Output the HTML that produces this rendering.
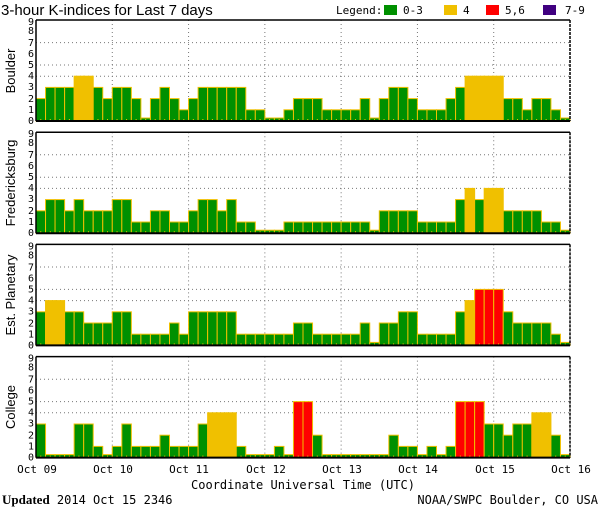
<!DOCTYPE html>
<html><head><meta charset="utf-8"><style>
html,body{margin:0;padding:0;background:#fff;}
svg{display:block;font-family:"DejaVu Sans Mono","Liberation Mono",monospace;}
</style></head><body>
<svg id="s" width="600" height="510" viewBox="0 0 600 510" xmlns="http://www.w3.org/2000/svg">
<rect width="600" height="510" fill="#fff"/>
<text x="1" y="15" font-size="15" font-family="Liberation Sans, sans-serif" fill="#000">3-hour K-indices for Last 7 days</text>
<text x="336" y="14" font-size="11" fill="#000">Legend:</text>
<rect x="384" y="5" width="13" height="10" fill="#009000"/><text x="403" y="14" font-size="11">0-3</text>
<rect x="444" y="5" width="13" height="10" fill="#f0c000"/><text x="463" y="14" font-size="11">4</text>
<rect x="486" y="5" width="13" height="10" fill="#ff0000"/><text x="505" y="14" font-size="11">5,6</text>
<rect x="543" y="5" width="13" height="10" fill="#400080"/><text x="565" y="14" font-size="11">7-9</text>
<g id="bars"></g>
<g font-size="10" text-anchor="end" fill="#000">
<text x="34" y="124">0</text><text x="34" y="113">1</text><text x="34" y="102">2</text><text x="34" y="90">3</text><text x="34" y="79">4</text><text x="34" y="68">5</text><text x="34" y="57">6</text><text x="34" y="46">7</text><text x="34" y="34">8</text><text x="34" y="25">9</text>
</g>
<g font-size="10" text-anchor="end" transform="translate(0,112.2)">
<text x="34" y="124">0</text><text x="34" y="113">1</text><text x="34" y="102">2</text><text x="34" y="90">3</text><text x="34" y="79">4</text><text x="34" y="68">5</text><text x="34" y="57">6</text><text x="34" y="46">7</text><text x="34" y="34">8</text><text x="34" y="25">9</text>
</g>
<g font-size="10" text-anchor="end" transform="translate(0,224.4)">
<text x="34" y="124">0</text><text x="34" y="113">1</text><text x="34" y="102">2</text><text x="34" y="90">3</text><text x="34" y="79">4</text><text x="34" y="68">5</text><text x="34" y="57">6</text><text x="34" y="46">7</text><text x="34" y="34">8</text><text x="34" y="25">9</text>
</g>
<g font-size="10" text-anchor="end" transform="translate(0,336.6)">
<text x="34" y="124">0</text><text x="34" y="113">1</text><text x="34" y="102">2</text><text x="34" y="90">3</text><text x="34" y="79">4</text><text x="34" y="68">5</text><text x="34" y="57">6</text><text x="34" y="46">7</text><text x="34" y="34">8</text><text x="34" y="25">9</text>
</g>
<g font-size="13" font-family="Liberation Sans, sans-serif" text-anchor="middle">
<text transform="translate(15,71) rotate(-90)">Boulder</text>
<text transform="translate(15,183) rotate(-90)">Fredericksburg</text>
<text transform="translate(15,295) rotate(-90)">Est. Planetary</text>
<text transform="translate(15,407) rotate(-90)">College</text>
</g>
<g font-size="11" text-anchor="middle">
<text x="37" y="473">Oct 09</text><text x="113" y="473">Oct 10</text><text x="189" y="473">Oct 11</text><text x="266" y="473">Oct 12</text><text x="342" y="473">Oct 13</text><text x="418" y="473">Oct 14</text><text x="495" y="473">Oct 15</text><text x="571" y="473">Oct 16</text>
</g>
<text x="303" y="489" font-size="12" text-anchor="middle">Coordinate Universal Time (UTC)</text>
<text x="2" y="504" font-size="12"><tspan font-family="Liberation Serif, serif" font-weight="bold" font-size="13">Updated</tspan> 2014 Oct 15 2346</text>
<text x="598" y="504" font-size="12" text-anchor="end">NOAA/SWPC Boulder, CO USA</text>
</svg>
<script>
var data=[
[2,3,3,3,4,4,3,2, 3,3,2,0,2,3,2,1, 2,3,3,3,3,3,1,1, 0,0,1,2,2,2,1,1, 1,1,2,0,2,3,3,2, 1,1,1,2,3,4,4,4, 4,2,2,1,2,2,1,0],
[2,3,3,2,3,2,2,2, 3,3,1,1,2,2,1,1, 2,3,3,2,3,1,1,0, 0,0,1,1,1,1,1,1, 1,1,1,0,2,2,2,2, 1,1,1,1,3,4,3,4, 4,2,2,2,2,1,1,0],
[3,4,4,3,3,2,2,2, 3,3,1,1,1,1,2,1, 3,3,3,3,3,1,1,1, 1,1,1,2,2,1,1,1, 1,1,2,0,2,2,3,3, 1,1,1,1,3,4,5,5, 5,3,2,2,2,2,1,0],
[3,0,0,0,3,3,1,0, 1,3,1,1,1,2,1,1, 1,3,4,4,4,1,0,0, 0,1,0,5,5,2,0,0, 0,0,0,0,0,2,1,1, 0,1,0,1,5,5,5,3, 3,2,3,3,4,4,2,0]];
var g=document.getElementById('bars'),h='',L=36,R=570,W=(R-L)/56,U=11.2,D=(R-L)/7;
for(var p=0;p<4;p++){
 var b=121+112.2*p,t=b-101;
 [4,5,7].forEach(function(v){h+='<line x1="'+L+'" x2="'+R+'" y1="'+(b-v*U)+'" y2="'+(b-v*U)+'" stroke="#777" stroke-dasharray="1,3"/>';});
 for(var d=1;d<7;d++){var x=L+d*D;h+='<line x1="'+x+'" x2="'+x+'" y1="'+t+'" y2="'+b+'" stroke="#777" stroke-dasharray="1,3"/>';}
 for(var i=0;i<56;i++){
  var v=data[p][i],x=L+i*W,hh=v==0?3:v*U;
  var c=v>=5?'#ff0000':(v==4?'#f0c000':'#009000');
  h+='<rect x="'+x.toFixed(2)+'" y="'+(b-hh).toFixed(2)+'" width="'+W.toFixed(2)+'" height="'+hh.toFixed(2)+'" fill="'+c+'" stroke="#f0c000" stroke-width="1"/>';
  h+='<rect x="'+(x+W/2-0.5).toFixed(2)+'" y="'+(b-2)+'" width="1" height="2" fill="#f0c000"/>';
 }
 h+='<line x1="'+L+'" x2="'+R+'" y1="'+t+'" y2="'+t+'" stroke="#000" stroke-width="1.5"/>';
 h+='<line x1="'+L+'" x2="'+R+'" y1="'+b+'" y2="'+b+'" stroke="#000" stroke-width="2"/>';
 h+='<line x1="'+L+'" x2="'+L+'" y1="'+t+'" y2="'+b+'" stroke="#000" stroke-width="1.5"/>';
 h+='<line x1="'+R+'" x2="'+R+'" y1="'+t+'" y2="'+b+'" stroke="#000" stroke-width="1.5" stroke-dasharray="3,1"/>';
}
g.innerHTML=h;
</script>
</body></html>
